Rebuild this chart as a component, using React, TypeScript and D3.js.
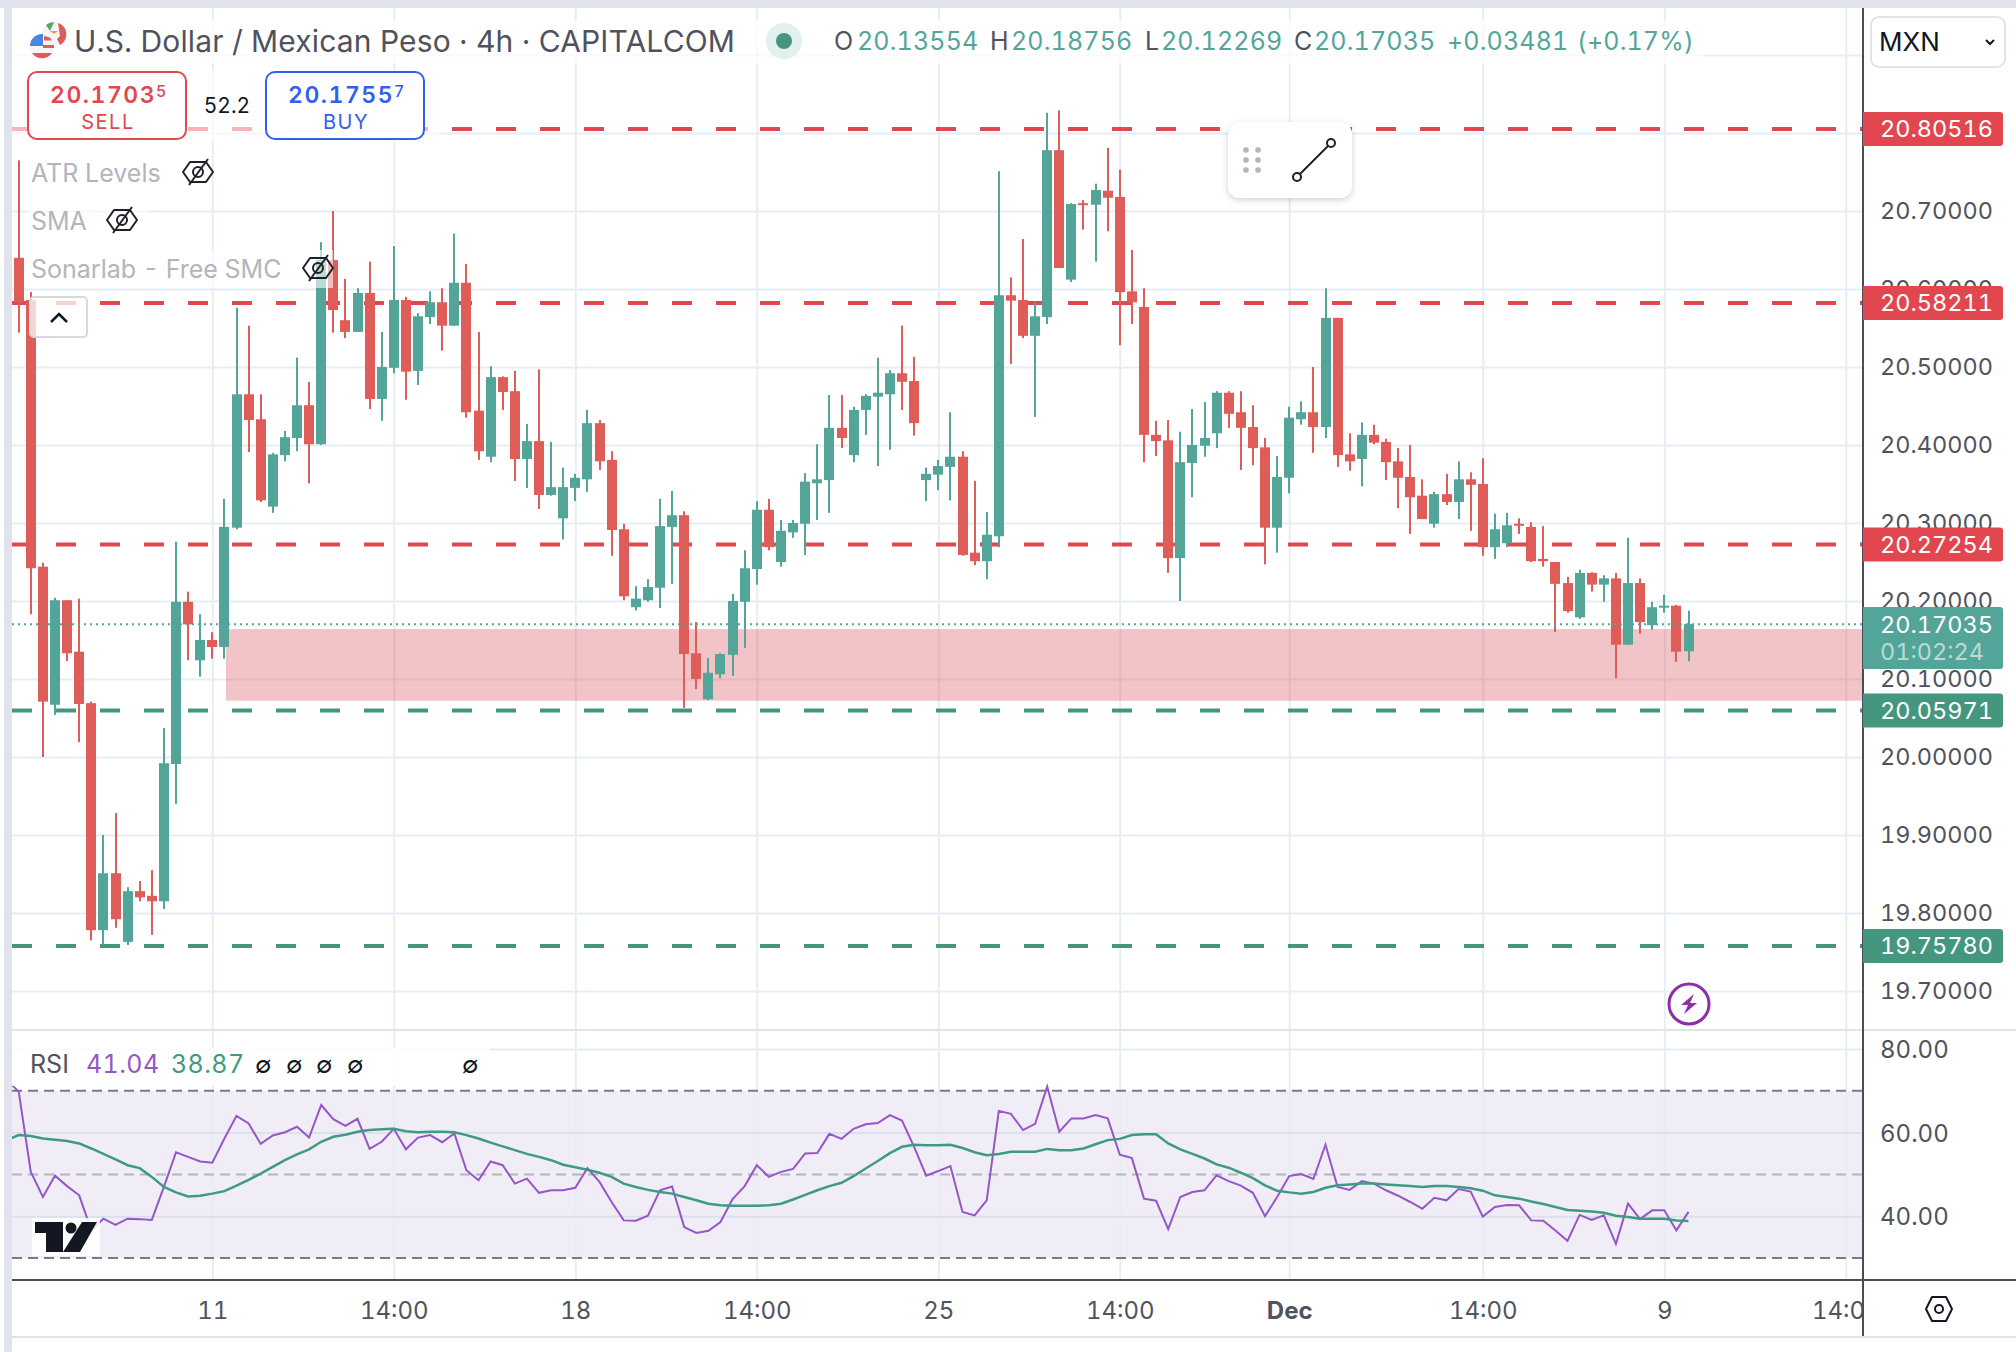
import { useEffect, useRef } from "react";
import * as d3 from "d3";

// USD/MXN 4h candles (bar index = position in the arrays)
const opens = [20.640,20.586,20.244,20.067,20.201,20.135,20.069,19.778,19.851,19.763,19.828,19.822,19.815,19.991,20.199,20.124,20.150,20.141,20.294,20.465,20.433,20.321,20.387,20.409,20.451,20.401,20.637,20.560,20.545,20.595,20.459,20.499,20.586,20.495,20.564,20.583,20.553,20.608,20.444,20.385,20.487,20.469,20.382,20.405,20.336,20.306,20.345,20.356,20.428,20.381,20.292,20.192,20.201,20.217,20.295,20.310,20.133,20.074,20.106,20.131,20.199,20.241,20.317,20.250,20.288,20.299,20.351,20.355,20.422,20.387,20.445,20.462,20.465,20.492,20.482,20.355,20.362,20.372,20.385,20.262,20.251,20.283,20.592,20.586,20.540,20.564,20.778,20.612,20.710,20.708,20.726,20.718,20.597,20.577,20.413,20.406,20.255,20.377,20.399,20.415,20.467,20.442,20.423,20.397,20.294,20.358,20.433,20.442,20.423,20.563,20.388,20.382,20.413,20.404,20.379,20.359,20.335,20.299,20.337,20.327,20.356,20.350,20.269,20.274,20.299,20.295,20.254,20.250,20.223,20.179,20.236,20.221,20.229,20.144,20.223,20.169,20.192,20.194,20.13554];
const highs = [20.765,20.596,20.249,20.204,20.201,20.203,20.071,19.900,19.928,19.833,19.841,19.855,20.037,20.276,20.212,20.183,20.160,20.331,20.576,20.553,20.465,20.390,20.418,20.512,20.481,20.660,20.700,20.613,20.601,20.635,20.545,20.655,20.590,20.569,20.597,20.601,20.671,20.632,20.545,20.501,20.488,20.495,20.427,20.497,20.404,20.371,20.363,20.445,20.432,20.392,20.299,20.219,20.228,20.331,20.341,20.315,20.173,20.127,20.133,20.209,20.265,20.328,20.331,20.304,20.304,20.364,20.401,20.464,20.464,20.449,20.465,20.512,20.496,20.553,20.513,20.371,20.381,20.442,20.392,20.354,20.314,20.751,20.615,20.664,20.583,20.826,20.829,20.710,20.714,20.735,20.781,20.753,20.650,20.601,20.431,20.432,20.417,20.446,20.455,20.469,20.469,20.469,20.451,20.409,20.386,20.449,20.456,20.500,20.601,20.563,20.415,20.429,20.426,20.408,20.396,20.400,20.356,20.340,20.363,20.379,20.365,20.383,20.312,20.313,20.306,20.301,20.296,20.250,20.231,20.240,20.237,20.233,20.236,20.281,20.229,20.199,20.208,20.195,20.18756];
const lows = [20.544,20.183,20.000,20.054,20.123,20.019,19.765,19.759,19.781,19.759,19.815,19.772,19.805,19.940,20.124,20.103,20.126,20.126,20.292,20.391,20.327,20.313,20.379,20.392,20.351,20.400,20.544,20.537,20.545,20.446,20.431,20.492,20.458,20.477,20.555,20.521,20.553,20.435,20.381,20.378,20.445,20.354,20.345,20.318,20.335,20.279,20.328,20.340,20.368,20.258,20.201,20.188,20.199,20.191,20.222,20.063,20.087,20.073,20.101,20.104,20.140,20.221,20.265,20.244,20.281,20.259,20.304,20.313,20.396,20.378,20.413,20.373,20.394,20.445,20.412,20.328,20.342,20.329,20.258,20.246,20.228,20.269,20.504,20.537,20.436,20.555,20.627,20.609,20.676,20.635,20.674,20.528,20.555,20.378,20.386,20.236,20.200,20.333,20.385,20.396,20.422,20.368,20.374,20.247,20.262,20.338,20.426,20.390,20.409,20.372,20.367,20.347,20.401,20.355,20.319,20.286,20.305,20.294,20.323,20.305,20.290,20.258,20.254,20.269,20.286,20.250,20.244,20.160,20.185,20.177,20.212,20.199,20.101,20.144,20.158,20.163,20.185,20.122,20.12269];
const closes = [20.583,20.242,20.071,20.201,20.133,20.068,19.778,19.851,19.792,19.828,19.820,19.815,19.992,20.199,20.170,20.150,20.141,20.295,20.465,20.432,20.329,20.388,20.410,20.451,20.401,20.637,20.573,20.545,20.595,20.459,20.500,20.586,20.494,20.565,20.583,20.553,20.608,20.442,20.392,20.487,20.468,20.382,20.405,20.336,20.346,20.346,20.358,20.428,20.379,20.291,20.206,20.203,20.218,20.296,20.310,20.132,20.100,20.108,20.132,20.200,20.242,20.317,20.269,20.290,20.300,20.353,20.356,20.422,20.409,20.445,20.463,20.467,20.492,20.481,20.428,20.363,20.373,20.385,20.259,20.251,20.285,20.592,20.585,20.540,20.565,20.778,20.627,20.709,20.708,20.727,20.717,20.596,20.583,20.413,20.405,20.255,20.378,20.400,20.409,20.467,20.440,20.422,20.396,20.294,20.359,20.435,20.442,20.423,20.563,20.387,20.379,20.413,20.403,20.378,20.358,20.333,20.305,20.337,20.327,20.356,20.349,20.269,20.292,20.297,20.297,20.251,20.251,20.222,20.187,20.236,20.221,20.229,20.144,20.223,20.173,20.192,20.194,20.135,20.17035];

// RSI series, first value belongs to the bar just left of the visible range
const rsiValues = [72.6,69.8,50.6,44.6,49.7,47.2,45,36.6,39.4,37.9,39.4,39.3,39.1,47,55.3,54.2,53.1,52.8,58.6,64,62.2,57.3,59.3,60.1,61.4,58.8,66.6,63.2,61.6,63.3,56.1,57.8,60.9,56,58.8,59.4,57.7,59.8,51,48.6,53.1,52.2,47.8,49,45.6,46.2,46.2,46.8,51.5,48.2,43.4,39,38.9,40.1,46.2,47.1,37.4,36,36.5,38.6,44.1,47.2,52.2,49.4,50.6,51.3,55,55.1,59.7,58.5,60.9,62,62.3,64.2,62.9,56.6,49.7,50.8,52,41,40.2,43.8,65.2,64.5,60.6,62.1,71,60.2,63.4,63.4,64.2,63.4,54.7,53.9,44.2,43.7,36.9,44.6,45.8,46.2,49.8,48.4,47.3,45.6,40,44.6,49.6,50.1,48.9,57.1,47,46.3,48.4,47.8,46.2,44.9,43.4,41.8,44.4,43.8,46.5,45.9,39.9,42.2,42.7,42.6,39,38.9,36.6,34.1,40.3,39.1,40.2,33.4,43,39.3,41.4,41.4,36.6,41.04];
const rsiMaValues = [58.2,59.4,59.2,58.6,58.3,58,57.4,56.2,54.9,53.6,52.2,51.5,49.4,47,45.7,44.7,44.9,45.4,46,47.3,48.7,50.2,51.8,53.4,54.8,56,57.8,59,59.5,60.2,60.6,60.8,60.9,60.3,60.1,60.2,60.2,60.1,59.4,58.6,57.6,56.7,55.8,54.9,54.2,53.4,52.3,51.7,51.1,50.4,49.4,47.8,47,46.3,45.8,45.4,44.6,43.8,43,42.6,42.5,42.5,42.5,42.6,43,44,45.1,46.2,47.2,48,49.6,51.4,53.2,55.1,56.6,57.1,57,57,57.1,56.3,55.3,54.6,54.9,55.4,55.4,55.4,56.1,55.8,55.8,56.2,57.2,58.2,58.5,59.4,59.6,59.6,57.4,56,54.9,53.8,52.4,51.6,50.4,49.1,47.4,46.1,45.7,45.4,45.8,46.8,47.4,47.6,47.8,47.8,47.6,47.4,47.2,47,47.2,47.2,47,46.7,46.1,45,44.6,44.2,43.5,42.9,42.2,41.5,41.3,41.1,40.8,40.1,39.8,39.4,39.4,39.4,39,38.87];

const priceTicks = [20.9,20.8,20.7,20.6,20.5,20.4,20.3,20.2,20.1,20.0,19.9,19.8,19.7];
const priceLabelTicks = [20.7,20.6,20.5,20.4,20.3,20.2,20.1,20.0,19.9,19.8,19.7];
const redLevels = [20.80516,20.58211,20.27254];
const greenLevels = [20.05971,19.7578];
const zone = [20.164,20.0722];
const lastPrice = 20.17035;
const rsiTicks = [80,60,40];
const rsiBounds = [70,30];
const rsiMiddle = 50;
const timeTicks = [16,31,46,61,76,91,105,121,136,151];
const timeLabels = ["11","14:00","18","14:00","25","14:00","Dec","14:00","9","14:00"];

const FONT = "Inter, 'Noto Sans', sans-serif";
const RED = "#df5d58";
const GREEN = "#53a59a";
const LEVEL_RED = "#e2474f";
const LEVEL_GREEN = "#45967e";
const GRID = "#e6edf4";
const AXIS_TEXT = "#50535e";

const LEFT = 12;
const AXIS_X = 1863;

export default function App() {
  const svgRef = useRef<SVGSVGElement>(null);

  useEffect(() => {
    const svg = d3.select(svgRef.current);
    svg.selectAll("*").remove();

    const x = d3.scaleLinear().domain([0, 138]).range([18.7, 1688.5]);
    const y = d3.scaleLinear().domain([20.8, 19.7]).range([133, 991]);
    const rsiY = d3.scaleLinear().domain([80, 30]).range([1049, 1258]);

    const text = (g: any, s: string, tx: number, ty: number, size: number, fill: string, extra: any = {}) => {
      const t = g.append("text").attr("x", tx).attr("y", ty).attr("font-size", size)
        .attr("font-family", FONT).attr("fill", fill).style("font-variant-numeric", "tabular-nums").text(s);
      Object.entries(extra).forEach(([k, v]) => t.attr(k, v as any));
      return t;
    };

    const defs = svg.append("defs");
    defs.append("clipPath").attr("id", "plot").append("rect")
      .attr("x", LEFT).attr("y", 8).attr("width", AXIS_X - LEFT).attr("height", 1330);
    const shadow = defs.append("filter").attr("id", "shadow").attr("x", "-20%").attr("y", "-20%").attr("width", "140%").attr("height", "150%");
    shadow.append("feDropShadow").attr("dx", 0).attr("dy", 2).attr("stdDeviation", 3).attr("flood-color", "#000").attr("flood-opacity", 0.18);

    // page frame
    svg.append("rect").attr("width", 2016).attr("height", 1352).attr("fill", "#fff");
    svg.append("rect").attr("width", 2016).attr("height", 8).attr("fill", "#e0e3eb");
    svg.append("rect").attr("x", 4).attr("width", 8).attr("height", 1352).attr("fill", "#e0e3eb");

    const plot = svg.append("g").attr("clip-path", "url(#plot)");

    // rsi band goes under the grid
    plot.append("rect").attr("x", LEFT).attr("width", AXIS_X - LEFT)
      .attr("y", rsiY(rsiBounds[0])).attr("height", rsiY(rsiBounds[1]) - rsiY(rsiBounds[0])).attr("fill", "#f0edf7");

    // vertical grid, one set per pane
    const gridStyle = (g: any, color: string) => {
      g.select(".domain").remove();
      g.selectAll("line").attr("stroke", color).attr("stroke-width", 2);
      g.selectAll("text").remove();
    };
    plot.append("g").attr("transform", "translate(0,1280)")
      .call(d3.axisBottom(x).tickValues(timeTicks).tickSize(-1272).tickFormat(() => ""))
      .call((g: any) => gridStyle(g, GRID));

    plot.append("g").attr("transform", `translate(${AXIS_X},0)`)
      .call(d3.axisLeft(y).tickValues(priceTicks).tickSize(AXIS_X - LEFT).tickFormat(() => ""))
      .call((g: any) => gridStyle(g, GRID));
    plot.append("g").attr("transform", `translate(${AXIS_X},0)`)
      .call(d3.axisLeft(rsiY).tickValues(rsiTicks).tickSize(AXIS_X - LEFT).tickFormat(() => ""))
      .call((g: any) => { gridStyle(g, "#dbe1ec"); g.selectAll("g").filter((d: number) => d === 80).select("line").attr("stroke", GRID); });

    // pane separator
    svg.append("line").attr("x1", LEFT).attr("x2", 2016).attr("y1", 1030).attr("y2", 1030).attr("stroke", "#e0e3eb").attr("stroke-width", 2);

    // pink zone
    plot.append("rect").attr("x", 226).attr("width", AXIS_X - 226)
      .attr("y", y(zone[0])).attr("height", y(zone[1]) - y(zone[0])).attr("fill", "#dc4c55").attr("fill-opacity", 0.33);

    // dashed levels
    const levelLine = (values: number[], color: string) => {
      plot.selectAll(null).data(values).enter().append("line")
        .attr("x1", LEFT).attr("x2", AXIS_X)
        .attr("y1", (d) => y(d)).attr("y2", (d) => y(d))
        .attr("stroke", color).attr("stroke-width", 4).attr("stroke-dasharray", "20 24");
    };
    levelLine(redLevels, LEVEL_RED);
    levelLine(greenLevels, LEVEL_GREEN);

    // candles
    const candles = d3.range(opens.length);
    const bars = plot.append("g").selectAll("g").data(candles).enter().append("g")
      .attr("fill", (i) => (closes[i] >= opens[i] ? GREEN : RED));
    bars.append("rect").attr("x", (i) => Math.round(x(i)) - 1).attr("width", 2)
      .attr("y", (i) => y(highs[i])).attr("height", (i) => y(lows[i]) - y(highs[i]));
    bars.append("rect").attr("x", (i) => Math.round(x(i)) - 5).attr("width", 10)
      .attr("y", (i) => y(Math.max(opens[i], closes[i])))
      .attr("height", (i) => Math.max(2, Math.abs(y(opens[i]) - y(closes[i]))));

    // last price dotted line
    plot.append("line").attr("x1", LEFT).attr("x2", AXIS_X).attr("y1", y(lastPrice)).attr("y2", y(lastPrice))
      .attr("stroke", GREEN).attr("stroke-width", 2).attr("stroke-dasharray", "2 4");

    // rsi lines
    const rsiDash = (v: number, color: string) => plot.append("line").attr("x1", LEFT).attr("x2", AXIS_X)
      .attr("y1", rsiY(v)).attr("y2", rsiY(v)).attr("stroke", color).attr("stroke-width", 2).attr("stroke-dasharray", "10 6");
    rsiBounds.forEach((v) => rsiDash(v, "#787b86"));
    rsiDash(rsiMiddle, "#b2b5be");

    const rsiLine = d3.line<number>().x((_, i) => x(i - 1)).y((d) => rsiY(d));
    plot.append("path").attr("d", rsiLine(rsiValues)).attr("fill", "none").attr("stroke", "#9656c6").attr("stroke-width", 2);
    plot.append("path").attr("d", rsiLine(rsiMaValues)).attr("fill", "none").attr("stroke", "#3f9a82").attr("stroke-width", 2.5);

    // tradingview logo
    const logo = svg.append("g");
    logo.append("rect").attr("x", 32).attr("y", 1218).attr("width", 68).attr("height", 38).attr("fill", "#fff").attr("fill-opacity", 0.85);
    logo.append("path").attr("d", "M35 1222H63V1252H46V1233H35Z").attr("fill", "#131722");
    logo.append("circle").attr("cx", 71).attr("cy", 1228).attr("r", 5.5).attr("fill", "#131722");
    logo.append("path").attr("d", "M82 1222H97L80 1252H63Z").attr("fill", "#131722");

    // axis lines
    const axisColor = "#4a4d57";
    svg.append("line").attr("x1", AXIS_X).attr("x2", AXIS_X).attr("y1", 8).attr("y2", 1337).attr("stroke", axisColor).attr("stroke-width", 2);
    svg.append("line").attr("x1", LEFT).attr("x2", 2016).attr("y1", 1280).attr("y2", 1280).attr("stroke", axisColor).attr("stroke-width", 2);
    svg.append("line").attr("x1", LEFT).attr("x2", 2016).attr("y1", 1337).attr("y2", 1337).attr("stroke", "#e0e3eb").attr("stroke-width", 2);

    // axis labels
    const styleLabels = (size: number) => (g: any) => {
      g.select(".domain").remove();
      g.selectAll("line").remove();
      g.selectAll("text").attr("font-family", FONT).attr("font-size", size).attr("fill", AXIS_TEXT)
        .style("font-variant-numeric", "tabular-nums");
    };
    svg.append("g").attr("transform", `translate(${AXIS_X},0)`)
      .call(d3.axisRight(y).tickValues(priceLabelTicks).tickSize(0).tickPadding(17).tickFormat(d3.format(".5f") as any))
      .call(styleLabels(23.5));
    svg.append("g").attr("transform", `translate(${AXIS_X},1)`)
      .call(d3.axisRight(rsiY).tickValues(rsiTicks).tickSize(0).tickPadding(17).tickFormat(d3.format(".2f") as any))
      .call(styleLabels(24));
    plot.append("g").attr("transform", "translate(0,1302)")
      .call(d3.axisBottom(x).tickValues(timeTicks).tickSize(0).tickPadding(0)
        .tickFormat((_, i) => timeLabels[i]))
      .call(styleLabels(24))
      .call((g: any) => g.selectAll("text").filter((_: any, i: number) => timeLabels[i] === "Dec").attr("font-weight", 700));

    // price badges
    const badge = (yTop: number, h: number, color: string) =>
      svg.append("path").attr("d", `M${AXIS_X} ${yTop}H2000a3 3 0 0 1 3 3V${yTop + h - 3}a3 3 0 0 1 -3 3H${AXIS_X}Z`).attr("fill", color);
    const badgeValue = (v: number, color: string) => {
      badge(y(v) - 17, 34, color);
      text(svg, d3.format(".5f")(v), 1880, y(v) + 8.5, 23.5, "#fff");
    };
    redLevels.forEach((v) => badgeValue(v, LEVEL_RED));
    greenLevels.forEach((v) => badgeValue(v, LEVEL_GREEN));
    badge(607, 62, GREEN);
    text(svg, d3.format(".5f")(lastPrice), 1880, y(lastPrice) + 8.5, 23.5, "#fff");
    text(svg, "01:02:24", 1880, 660, 23.5, "#fff", { "fill-opacity": 0.6 });

    // legend veils
    const veil = (vx: number, vy: number, w: number, h: number, o = 0.7) =>
      svg.append("rect").attr("x", vx).attr("y", vy).attr("width", w).attr("height", h).attr("fill", "#fff").attr("fill-opacity", o);
    veil(LEFT, 20, 1691, 44);
    veil(LEFT, 70, 428, 72, 0.6);
    veil(28, 155, 140, 38, 0.6);
    veil(28, 202, 120, 38, 0.6);
    veil(28, 250, 305, 38, 0.6);
    veil(LEFT, 1048, 478, 38, 0.8);

    // flags
    const mx = svg.append("g");
    mx.append("circle").attr("cx", 54).attr("cy", 34).attr("r", 12).attr("fill", "#f4f4f4");
    mx.append("path").attr("d", "M54 22a12 12 0 0 0 -8 3l4 6z").attr("fill", "#5aa469");
    mx.append("path").attr("d", "M58 23a12 12 0 0 1 2 22l-3 -6l3 -3z").attr("fill", "#df5d58");
    mx.append("path").attr("d", "M50 31h8l-4 3z").attr("fill", "#f0a030");
    const us = svg.append("g");
    us.append("circle").attr("cx", 42).attr("cy", 46).attr("r", 13).attr("fill", "#fff");
    us.append("circle").attr("cx", 42).attr("cy", 46).attr("r", 12).attr("fill", "#f4f4f4");
    us.append("path").attr("d", "M30 46a12 12 0 0 1 12 -12h1v12z").attr("fill", "#4a86e0");
    us.append("path").attr("d", "M32 53a12 12 0 0 0 20 0z").attr("fill", "#df5d58");
    us.append("path").attr("d", "M44 36l6 1.5l2 3h-8z").attr("fill", "#df5d58");
    us.append("path").attr("d", "M43 45h11v3h-11z").attr("fill", "#df5d58");

    // header
    text(svg, "U.S. Dollar / Mexican Peso · 4h · CAPITALCOM", 74, 52, 30, "#4f525c", { "letter-spacing": 0.15 });
    svg.append("circle").attr("cx", 784).attr("cy", 41).attr("r", 18).attr("fill", "#e2f1ee");
    svg.append("circle").attr("cx", 784).attr("cy", 41).attr("r", 8).attr("fill", LEVEL_GREEN);
    const ohlc: [string, number, string][] = [
      ["O", 834, AXIS_TEXT], ["20.13554", 857, GREEN], ["H", 990, AXIS_TEXT], ["20.18756", 1011, GREEN],
      ["L", 1145, AXIS_TEXT], ["20.12269", 1161, GREEN], ["C", 1294, AXIS_TEXT], ["20.17035", 1314, GREEN],
      ["+0.03481", 1447, GREEN], ["(+0.17%)", 1577, GREEN],
    ];
    ohlc.forEach(([s, ox, c]) => text(svg, s, ox, 50, 25, c, { "letter-spacing": 0.15 }));

    // sell / buy
    const tradeBox = (bx: number, color: string, main: string, sup: string, label: string) => {
      svg.append("rect").attr("x", bx).attr("y", 72).attr("width", 158).attr("height", 67).attr("rx", 9)
        .attr("fill", "#fff").attr("stroke", color).attr("stroke-width", 2);
      const t = text(svg, main, bx + 81, 103, 23, color, { "text-anchor": "middle", "font-weight": 600, "letter-spacing": 1.5 });
      t.append("tspan").attr("font-size", 16).attr("dy", -6).attr("font-weight", 500).text(sup);
      text(svg, label, bx + 80, 129, 20, color, { "text-anchor": "middle", "letter-spacing": 1.5 });
    };
    tradeBox(28, "#e2474f", "20.1703", "5", "SELL");
    text(svg, "52.2", 227, 113, 21, "#131722", { "text-anchor": "middle" });
    tradeBox(266, "#3060f0", "20.1755", "7", "BUY");

    // indicator legend
    const eye = (ex: number, ey: number) => {
      const g = svg.append("g").attr("transform", `translate(${ex},${ey})`).attr("fill", "none").attr("stroke", "#1f2128").attr("stroke-width", 2);
      g.append("path").attr("d", "M-15 0L-8 -10H8L15 0L8 10H-8Z").attr("stroke-linejoin", "round");
      g.append("circle").attr("r", 5);
      g.append("line").attr("x1", -9).attr("y1", 13).attr("x2", 10).attr("y2", -13);
    };
    text(svg, "ATR Levels", 31, 182, 25, "#b2b5be");
    eye(198, 172);
    text(svg, "SMA", 31, 230, 25, "#b2b5be");
    eye(122, 220);
    text(svg, "Sonarlab - Free SMC", 31, 278, 25, "#b2b5be");
    eye(318, 268);

    // collapse button
    svg.append("rect").attr("x", 30).attr("y", 297).attr("width", 57).attr("height", 40).attr("rx", 4)
      .attr("fill", "#fff").attr("fill-opacity", 0.75).attr("stroke", "#d6d8de").attr("stroke-width", 2);
    svg.append("path").attr("d", "M51 322L59 314L67 322").attr("fill", "none").attr("stroke", "#131722").attr("stroke-width", 2.5);

    // drawing toolbar
    svg.append("rect").attr("x", 1228).attr("y", 122).attr("width", 124).attr("height", 76).attr("rx", 12).attr("fill", "#fff").attr("filter", "url(#shadow)");
    [1246, 1258].forEach((dx) => [150, 160, 170].forEach((dy) =>
      svg.append("circle").attr("cx", dx).attr("cy", dy).attr("r", 2.8).attr("fill", "#b2b5be")));
    svg.append("line").attr("x1", 1297).attr("y1", 177).attr("x2", 1331).attr("y2", 143).attr("stroke", "#1f2128").attr("stroke-width", 2);
    [[1297, 177], [1331, 143]].forEach(([cx, cy]) =>
      svg.append("circle").attr("cx", cx).attr("cy", cy).attr("r", 4).attr("fill", "#fff").attr("stroke", "#1f2128").attr("stroke-width", 2));

    // currency selector
    svg.append("rect").attr("x", 1871).attr("y", 17).attr("width", 134).attr("height", 50).attr("rx", 8)
      .attr("fill", "#fff").attr("stroke", "#e0e3eb").attr("stroke-width", 2);
    text(svg, "MXN", 1879, 51, 26, "#131722");
    svg.append("path").attr("d", "M1986 40L1990 44L1994 40").attr("fill", "none").attr("stroke", "#131722").attr("stroke-width", 2);

    // lightning badge
    svg.append("circle").attr("cx", 1689).attr("cy", 1004).attr("r", 20).attr("fill", "#fff").attr("stroke", "#8e2ea8").attr("stroke-width", 3);
    svg.append("path").attr("d", "M1694 994L1681 1005H1688L1684 1014L1697 1003H1690Z").attr("fill", "#8e2ea8");

    // rsi legend
    text(svg, "RSI", 30, 1073, 25, AXIS_TEXT);
    text(svg, "41.04", 86, 1073, 25, "#9656c6", { "letter-spacing": 0.4 });
    text(svg, "38.87", 171, 1073, 25, "#3f9a82", { "letter-spacing": 0.4 });
    [264, 295, 325, 356, 471].forEach((ax) => text(svg, "∅", ax - 9, 1073, 24, "#131722"));

    // settings hexagon
    const hex = svg.append("g").attr("transform", "translate(1939,1309)").attr("fill", "none").attr("stroke", "#131722").attr("stroke-width", 2);
    hex.append("path").attr("d", "M-13 0L-7 -12H7L13 0L7 12H-7Z").attr("stroke-linejoin", "round");
    hex.append("circle").attr("r", 4);
  }, []);

  return <svg ref={svgRef} width={2016} height={1352} style={{ position: "absolute", left: 0, top: 0, display: "block" }} />;
}
